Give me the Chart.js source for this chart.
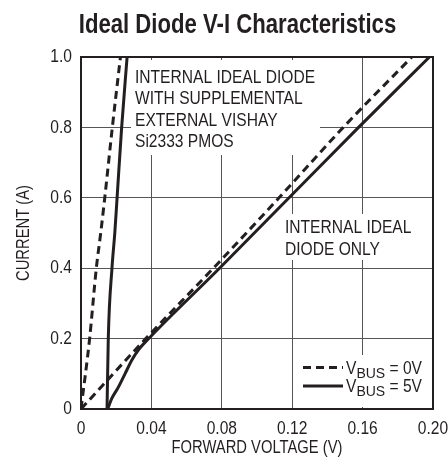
<!DOCTYPE html>
<html>
<head>
<meta charset="utf-8">
<script src="https://cdn.jsdelivr.net/npm/chart.js@4"></script>
<style>
  html, body { margin: 0; padding: 0; background: #fff; }
  #wrap { width: 448px; height: 465px; position: relative; }
</style>
</head>
<body>
<div id="wrap"><canvas id="c" width="448" height="465"></canvas></div>
<script>
// ---- data (V in volts, I in amps) ----
const titleText = 'Ideal Diode V-I Characteristics';
const xAxisTitle = 'FORWARD VOLTAGE (V)';
const yAxisTitle = 'CURRENT (A)';
const xTickLabels = ['0', '0.04', '0.08', '0.12', '0.16', '0.20'];
const yTickLabels = ['0', '0.2', '0.4', '0.6', '0.8', '1.0'];

// V_BUS = 0V, internal ideal diode with external PMOS (dashed, steep)
const pmos0V_V = [0, 0.0049, 0.0087, 0.0112, 0.0135, 0.0178, 0.0224];
const pmos0V_I = [0, 0.2, 0.4, 0.5, 0.6, 0.8, 1.0];
// V_BUS = 5V, internal ideal diode with external PMOS (solid, steep)
const pmos5V_V = [0.0148, 0.0155, 0.0176, 0.0192, 0.0205, 0.0231, 0.0262];
const pmos5V_I = [0, 0.2, 0.4, 0.5, 0.6, 0.8, 1.0];
// V_BUS = 0V, internal ideal diode only (dashed)
const int0V_V = [0, 0.0368, 0.0752, 0.1125, 0.149, 0.188];
const int0V_I = [0, 0.2, 0.4, 0.6, 0.8, 1.0];
// V_BUS = 5V, internal ideal diode only (solid)
const int5V_V = [0.0152, 0.0175, 0.021, 0.025, 0.029, 0.033, 0.0392, 0.0787, 0.1182, 0.1577, 0.198];
const int5V_I = [0, 0.03, 0.06, 0.1, 0.14, 0.17, 0.204, 0.4, 0.6, 0.8, 1.0];

const annotation1 = ['INTERNAL IDEAL DIODE', 'WITH SUPPLEMENTAL', 'EXTERNAL VISHAY', 'Si2333 PMOS'];
const annotation2 = ['INTERNAL IDEAL', 'DIODE ONLY'];
const legendLabels = [{sub: 'BUS', rest: ' = 0V', dash: true}, {sub: 'BUS', rest: ' = 5V', dash: false}];

const pts = (xs, ys) => xs.map((x, i) => ({x: x, y: ys[i]}));

const FONT = '"Liberation Sans", Arial, sans-serif';
const INK = '#231f20';
const DASH = [8, 5];
const SX = 0.82; // horizontal condensation of text (condensed typeface look)

const canvas = document.getElementById('c');
const cx = canvas.getContext('2d');
const origFill = cx.fillText.bind(cx);
const origMeasure = cx.measureText.bind(cx);
cx.fillText = function (t, x, y, maxW) {
  this.save();
  this.translate(x, y);
  this.scale(SX, 1);
  if (maxW === undefined) origFill(t, 0, 0); else origFill(t, 0, 0, maxW / SX);
  this.restore();
};
cx.measureText = function (t) {
  const m = origMeasure(t);
  return {
    width: m.width * SX,
    actualBoundingBoxAscent: m.actualBoundingBoxAscent,
    actualBoundingBoxDescent: m.actualBoundingBoxDescent,
    actualBoundingBoxLeft: m.actualBoundingBoxLeft * SX,
    actualBoundingBoxRight: m.actualBoundingBoxRight * SX
  };
};

const overlay = {
  id: 'overlay',
  beforeDatasetsDraw(chart) {
    const ctx = chart.ctx;
    ctx.save();
    // white backing behind annotation texts (interrupt gridlines)
    ctx.fillStyle = '#fff';
    ctx.fillRect(131, 60, 189, 95);
    ctx.fillRect(281, 214, 130, 46);
    ctx.fillRect(300, 355, 131, 52);
    ctx.fillStyle = INK;
    ctx.font = '19px ' + FONT;
    ctx.textAlign = 'left';
    ctx.textBaseline = 'alphabetic';
    annotation1.forEach((t, i) => ctx.fillText(t, 135, 83 + i * 21.3));
    annotation2.forEach((t, i) => ctx.fillText(t, 285, 233 + i * 22));
    // legend
    legendLabels.forEach((l, i) => {
      const y = 367.5 + i * 18.5;
      ctx.beginPath();
      ctx.lineWidth = 3;
      ctx.strokeStyle = INK;
      ctx.setLineDash(l.dash ? DASH : []);
      ctx.moveTo(303, y);
      ctx.lineTo(343, y);
      ctx.stroke();
      ctx.setLineDash([]);
      let x = 346;
      const base = y + 6;
      ctx.font = '19px ' + FONT;
      ctx.fillText('V', x, base);
      x += ctx.measureText('V').width;
      ctx.font = '14px ' + FONT;
      origFill(l.sub, x, base + 4);
      x += origMeasure(l.sub).width;
      ctx.font = '19px ' + FONT;
      ctx.fillText(l.rest, x, base);
    });
    ctx.restore();
  },
  afterDraw(chart) {
    const ctx = chart.ctx;
    const a = chart.chartArea;
    ctx.save();
    ctx.strokeStyle = INK;
    ctx.lineWidth = 2;
    ctx.strokeRect(a.left, a.top, a.right - a.left, a.bottom - a.top);
    // title
    ctx.fillStyle = INK;
    ctx.font = 'bold 27px ' + FONT;
    ctx.textAlign = 'center';
    ctx.textBaseline = 'alphabetic';
    ctx.fillText(titleText, 237.5, 33);
    ctx.restore();
  }
};

const common = {borderColor: INK, borderWidth: 3, pointRadius: 0, fill: false, cubicInterpolationMode: 'monotone'};

new Chart(canvas, {
  type: 'line',
  data: {
    datasets: [
      Object.assign({label: 'pmos0', data: pts(pmos0V_V, pmos0V_I), borderDash: DASH}, common),
      Object.assign({label: 'pmos5', data: pts(pmos5V_V, pmos5V_I)}, common),
      Object.assign({label: 'int0', data: pts(int0V_V, int0V_I), borderDash: DASH}, common),
      Object.assign({label: 'int5', data: pts(int5V_V, int5V_I)}, common)
    ]
  },
  options: {
    responsive: false,
    animation: false,
    devicePixelRatio: 1,
    layout: {padding: {top: 57, right: 15, left: 0, bottom: 0}},
    plugins: {legend: {display: false}, title: {display: false}, tooltip: {enabled: false}},
    scales: {
      x: {
        type: 'linear', min: 0, max: 0.2,
        afterFit(s) { s.height = 56; s.paddingLeft = 0; s.paddingRight = 0; },
        ticks: {stepSize: 0.04, padding: 8, autoSkip: false, maxRotation: 0, color: INK, font: {family: FONT, size: 19},
                callback: v => xTickLabels[Math.round(v / 0.04)]},
        grid: {color: '#555', lineWidth: 1, drawTicks: false},
        border: {display: false},
        title: {display: true, text: xAxisTitle, color: INK, font: {family: FONT, size: 18}, padding: {top: 0, bottom: 6}}
      },
      y: {
        type: 'linear', min: 0, max: 1,
        afterFit(s) { s.width = 81; s.paddingTop = 0; s.paddingBottom = 0; },
        ticks: {stepSize: 0.2, padding: 9, autoSkip: false, color: INK, font: {family: FONT, size: 19},
                callback: v => yTickLabels[Math.round(v / 0.2)]},
        grid: {color: '#555', lineWidth: 1, drawTicks: false},
        border: {display: false},
        title: {display: true, text: yAxisTitle, color: INK, font: {family: FONT, size: 18}, padding: {top: 13, bottom: 0}}
      }
    }
  },
  plugins: [overlay]
});
</script>
</body>
</html>
